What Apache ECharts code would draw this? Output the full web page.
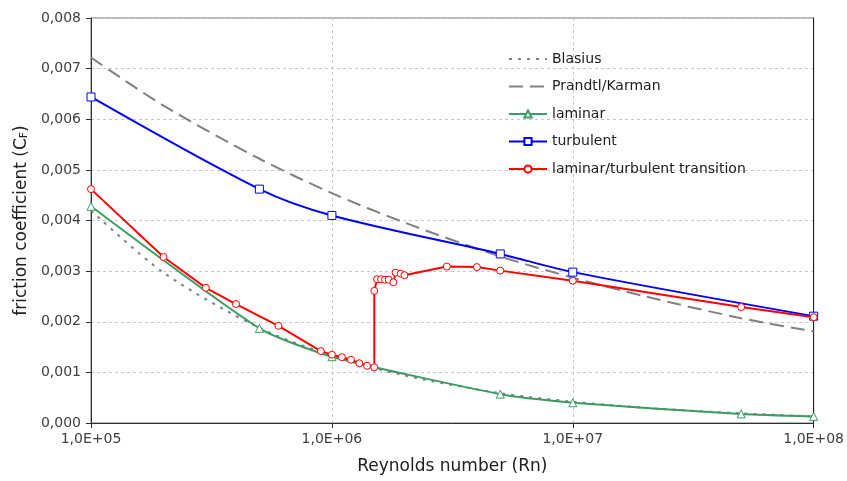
<!DOCTYPE html>
<html>
<head>
<meta charset="utf-8">
<script src="https://cdn.jsdelivr.net/npm/echarts@6/dist/echarts.min.js"></script>
<style>
  html, body { margin: 0; padding: 0; background: #ffffff; }
  #chart { width: 847px; height: 481px; }
</style>
</head>
<body>
<div id="chart"></div>
<script>
// Reynolds numbers and friction coefficients of each curve
const blasiusRe = [1e5, 2e5, 5e5, 1e6, 2e6, 5e6, 1e7, 2e7, 5e7, 1e8];
const blasiusCf = [0.00420, 0.00297, 0.00188, 0.00133, 0.00094, 0.00059, 0.00042, 0.00030, 0.00019, 0.00013];

const prandtlRe = [1e5, 2e5, 5e5, 1e6, 2e6, 5e6, 1e7, 2e7, 5e7, 1e8];
const prandtlCf = [0.00722, 0.00627, 0.00522, 0.00454, 0.00396, 0.00329, 0.00287, 0.00250, 0.00207, 0.00181];

const laminarRe = [1e5, 5e5, 1e6, 5e6, 1e7, 5e7, 1e8];
const laminarCf = [0.00428, 0.00187, 0.00131, 0.00057, 0.00040, 0.00018, 0.00013];

const turbulentRe = [1e5, 5e5, 1e6, 5e6, 1e7, 1e8];
const turbulentCf = [0.00644, 0.00462, 0.00410, 0.00334, 0.00298, 0.00211];

const transitionRe = [1e5, 2e5, 3e5, 4e5, 6e5, 9e5, 1e6, 1.1e6, 1.2e6, 1.3e6, 1.4e6, 1.5e6, 1.5e6,
  1.54e6, 1.6e6, 1.66e6, 1.72e6, 1.8e6, 1.84e6, 1.93e6, 2e6, 3e6, 4e6, 5e6, 1e7, 5e7, 1e8];
const transitionCf = [0.00462, 0.00328, 0.00267, 0.00235, 0.00192, 0.00142, 0.00135, 0.00130, 0.00125, 0.00118, 0.00113, 0.00110, 0.00261,
  0.00284, 0.00284, 0.00283, 0.00283, 0.00278, 0.00297, 0.00295, 0.00292, 0.00309, 0.00308, 0.00301, 0.00281, 0.00229, 0.00209];

// Axis ticks
const yTicks = { min: 0, max: 0.008, step: 0.001 };
const xTicks = { min: 1e5, max: 1e8 };

const pairs = (xs, ys) => xs.map((x, i) => [x, ys[i]]);

const FONT = 'DejaVu Sans';
const chart = echarts.init(document.getElementById('chart'), null, { renderer: 'canvas' });

chart.setOption({
  animation: false,
  backgroundColor: '#ffffff',
  textStyle: { fontFamily: FONT },
  grid: {
    left: 91, right: 31, top: 18, bottom: 58,
    show: true, borderColor: '#707070', borderWidth: 1
  },
  legend: {
    orient: 'vertical',
    left: 503, top: 47,
    itemWidth: 38, itemHeight: 9, itemGap: 13.5, textGap: 5,
    textStyle: { fontFamily: FONT, fontSize: 14, color: '#202020' },
    data: [
      { name: 'Blasius', itemStyle: { opacity: 0 } },
      { name: 'Prandtl/Karman', itemStyle: { opacity: 0 } },
      'laminar', 'turbulent', 'laminar/turbulent transition'
    ]
  },
  xAxis: {
    type: 'log', logBase: 10,
    min: xTicks.min, max: xTicks.max,
    name: 'Reynolds number (Rn)',
    nameLocation: 'middle', nameGap: 35,
    nameTextStyle: { fontFamily: FONT, fontSize: 17, color: '#202020' },
    axisLine: { lineStyle: { color: '#303030', width: 1 } },
    axisTick: { show: true, length: 5, lineStyle: { color: '#303030' } },
    minorTick: { show: false },
    axisLabel: {
      fontFamily: FONT, fontSize: 14, color: '#404040', margin: 9,
      formatter: v => {
        const e = Math.round(Math.log10(v));
        return '1,0E+' + String(e).padStart(2, '0');
      }
    },
    splitLine: { show: true, lineStyle: { color: '#c8c8c8', type: [3, 3] } }
  },
  yAxis: [{
    type: 'value',
    min: yTicks.min, max: yTicks.max, interval: yTicks.step,
    name: 'friction coefficient (C{sub|F})',
    nameLocation: 'middle', nameGap: 60,
    nameTextStyle: {
      fontFamily: FONT, fontSize: 17, color: '#202020',
      rich: { sub: { fontFamily: FONT, fontSize: 11, color: '#202020', verticalAlign: 'bottom', padding: [6, 0, 0, 0] } }
    },
    axisLine: { show: true, lineStyle: { color: '#303030', width: 1 } },
    axisTick: { show: true, inside: false, length: 5, lineStyle: { color: '#303030' } },
    axisLabel: {
      fontFamily: FONT, fontSize: 14, color: '#404040', margin: 10,
      formatter: v => v.toFixed(3).replace('.', ',')
    },
    splitLine: { show: true, lineStyle: { color: '#c8c8c8', type: [3, 3] } }
  }, {
    // right-hand frame edge
    type: 'value', position: 'right',
    min: yTicks.min, max: yTicks.max, interval: yTicks.step,
    axisLine: { show: true, lineStyle: { color: '#202020', width: 1 } },
    axisTick: { show: false }, axisLabel: { show: false }, splitLine: { show: false }
  }],
  series: [
    {
      name: 'Blasius', type: 'line', data: pairs(blasiusRe, blasiusCf),
      smooth: 0.3, showSymbol: false, symbol: 'none',
      lineStyle: { color: '#808080', width: 2, type: [3, 6] },
      itemStyle: { color: '#808080' }, z: 2
    },
    {
      name: 'Prandtl/Karman', type: 'line', data: pairs(prandtlRe, prandtlCf),
      smooth: 0.3, showSymbol: false, symbol: 'none',
      lineStyle: { color: '#808080', width: 2, type: [14, 7] },
      itemStyle: { color: '#808080' }, z: 2
    },
    {
      name: 'laminar', type: 'line', data: pairs(laminarRe, laminarCf),
      smooth: 0.2, symbol: 'triangle', symbolSize: 8,
      lineStyle: { color: '#3c9c64', width: 2 },
      itemStyle: { color: '#ffffff', borderColor: '#3c9c64', borderWidth: 1 }, z: 3
    },
    {
      name: 'turbulent', type: 'line', data: pairs(turbulentRe, turbulentCf),
      smooth: 0.3, symbol: 'rect', symbolSize: 8,
      lineStyle: { color: '#0000ff', width: 2 },
      itemStyle: { color: '#ffffff', borderColor: '#0000ff', borderWidth: 1 }, z: 4
    },
    {
      name: 'laminar/turbulent transition', type: 'line', data: pairs(transitionRe, transitionCf),
      smooth: false, symbol: 'circle', symbolSize: 7,
      lineStyle: { color: '#ff0000', width: 2 },
      itemStyle: { color: '#ffffff', borderColor: '#ff0000', borderWidth: 1 }, z: 5
    }
  ]
});
</script>
</body>
</html>
